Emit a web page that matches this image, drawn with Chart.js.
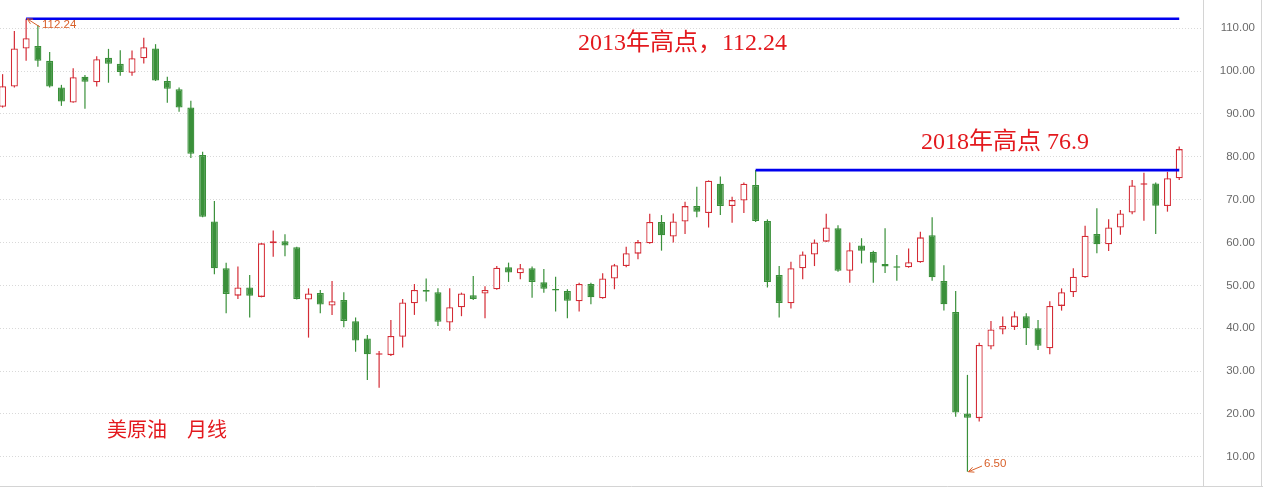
<!DOCTYPE html>
<html><head><meta charset="utf-8">
<script src="https://cdn.jsdelivr.net/npm/chart.js@4.4.0/dist/chart.umd.min.js"></script>
<style>html,body{margin:0;padding:0;background:#fff;overflow:hidden}canvas{display:block}</style>
</head><body>
<canvas id="c" width="1263" height="489"></canvas>
<script>
// Monthly candles (US crude oil), left to right
const opens  = [91.7,96.4,105.3,105.9,102.4,96.2,92.7,98.7,97.4,103.1,101.7,99.6,103.0,105.3,97.7,95.8,91.5,80.4,64.9,54.0,
                47.6,49.5,47.3,59.8,60.3,58.9,46.7,48.2,45.3,46.6,41.6,37.6,33.8,33.7,38.0,45.8,48.9,48.4,41.3,44.9,
                47.7,48.1,49.1,54.2,52.8,54.0,50.7,49.1,48.7,46.3,50.3,47.0,51.6,54.5,57.4,59.8,64.8,61.4,64.9,68.5,
                66.9,73.7,68.5,69.8,73.4,65.0,52.4,45.8,54.0,57.2,60.2,63.3,53.4,59.3,57.8,55.0,54.3,54.2,55.4,61.7,
                51.0,43.8,20.1,19.0,35.7,39.7,40.3,42.8,40.0,35.3,45.2,48.4,51.9,62.0,59.6,63.5,67.0,73.5,73.8,68.5,75.0];
const highs  = [99.3,109.4,112.24,110.8,104.5,96.8,100.7,99.1,103.5,105.2,104.9,104.8,107.8,106.3,98.7,96.2,93.1,81.2,69.7,55.3,
                54.4,52.4,59.9,62.8,61.9,59.0,49.3,48.9,51.0,48.4,42.5,38.4,34.7,41.9,46.8,50.3,51.6,49.3,49.3,48.3,
                52.2,49.8,54.5,55.3,55.0,54.4,53.8,52.0,49.1,50.6,50.6,52.8,55.0,59.0,60.6,66.7,66.4,66.8,69.5,73.0,
                74.5,75.4,70.7,74.0,76.9,65.4,54.5,55.5,57.9,60.7,66.7,64.0,60.0,61.0,58.1,63.3,57.1,58.6,62.5,65.9,
                54.7,48.7,29.1,36.6,41.7,42.7,43.9,43.5,41.9,46.3,49.3,54.0,63.9,68.0,65.4,67.6,74.6,76.3,74.0,76.5,82.4];
const lows   = [91.5,96.2,102.4,101.0,96.2,91.9,92.6,91.2,96.4,97.3,98.9,98.9,101.8,97.7,92.6,90.5,79.7,65.9,52.6,43.5,
                46.8,42.5,47.2,56.7,56.8,46.7,37.8,43.5,43.1,40.2,34.5,27.9,26.1,33.5,35.5,43.1,46.2,40.5,39.4,42.8,
                46.6,42.3,49.0,50.8,51.4,47.1,48.3,43.9,42.3,43.9,45.6,46.9,49.1,54.2,56.1,59.7,58.1,60.0,62.0,65.9,
                63.5,66.4,64.6,66.9,64.8,49.5,42.5,44.6,51.4,54.5,60.1,53.2,50.6,55.1,50.6,52.9,51.1,54.1,55.3,51.1,
                44.1,19.3,6.5,18.2,35.1,38.6,39.6,36.1,34.9,33.9,44.1,47.3,51.8,57.5,58.0,61.8,66.6,65.1,62.0,67.2,74.6];
const closes = [96.5,105.3,107.7,102.4,96.4,92.9,98.6,97.5,102.8,101.7,99.8,103.0,105.6,97.8,95.9,91.5,80.7,66.0,54.0,48.0,
                49.5,47.6,59.8,60.3,59.3,46.8,48.1,45.5,46.3,41.7,37.1,33.9,34.0,38.2,46.0,48.9,48.5,41.5,44.9,48.1,
                46.8,48.9,54.1,53.0,54.0,50.8,49.2,48.8,46.4,50.3,47.2,51.6,54.7,57.5,60.1,64.8,61.7,64.9,68.5,67.2,
                74.4,68.5,69.9,73.7,65.0,50.8,45.9,54.0,57.2,60.0,63.5,53.4,58.2,58.1,55.3,54.4,54.1,55.4,61.2,51.9,
                45.6,20.3,19.1,36.1,39.7,40.5,42.8,40.0,35.9,45.2,48.4,52.0,61.6,59.6,63.5,66.8,73.3,73.8,68.6,75.0,81.8];
const yTickValues = [10,20,30,40,50,60,70,80,90,100,110];
const high2013Index = 2,  high2013 = 112.24;
const high2018Index = 64, high2018 = 76.9;
const lowIndex = 82, lowValue = 6.50;
const lastIndex = 100;
const title2013 = '2013年高点，112.24';
const title2018 = '2018年高点 76.9';
const chartName = '美原油　月线';

const UP = '#d42c36', DOWN = '#3a903a';
const isUp = i => closes[i] >= opens[i];

const bodies = opens.map((o, i) => ({x: i, y: [o, closes[i]]}));
const wicks = lows.map((l, i) => ({x: i, y: [l, highs[i]]}));

const annot = {
  id: 'annot',
  afterDraw(chart) {
    const ctx = chart.ctx, xs = chart.scales.x, ys = chart.scales.y;
    ctx.save();
    // frame
    ctx.strokeStyle = '#d4d4d4'; ctx.lineWidth = 1;
    ctx.beginPath();
    ctx.moveTo(0, 486.5); ctx.lineTo(1263, 486.5);
    ctx.moveTo(1261.5, 0); ctx.lineTo(1261.5, 487);
    ctx.stroke();
    // big texts
    ctx.fillStyle = '#e3191e';
    ctx.textBaseline = 'middle'; ctx.textAlign = 'left';
    ctx.font = '24px "Liberation Serif", "Noto Sans CJK SC", serif';
    ctx.fillText(title2013, 578, 44);
    ctx.fillText(title2018, 921, 143);
    ctx.font = '20px "Noto Sans CJK SC", sans-serif';
    ctx.fillText(chartName, 107, 429);
    // small extreme labels with arrows
    const label = (idx, val, tx, ty) => {
      const px = xs.getPixelForValue(idx), py = ys.getPixelForValue(val);
      ctx.strokeStyle = '#d8602a'; ctx.fillStyle = '#d8602a'; ctx.lineWidth = 1;
      const sx = tx - 2, sy = ty + 2;
      ctx.beginPath(); ctx.moveTo(sx, sy); ctx.lineTo(px + 1, py); ctx.stroke();
      const a = Math.atan2(sy - py, sx - px);
      ctx.beginPath();
      ctx.moveTo(px + 1, py);
      ctx.lineTo(px + 1 + 6*Math.cos(a - 0.45), py + 6*Math.sin(a - 0.45));
      ctx.moveTo(px + 1, py);
      ctx.lineTo(px + 1 + 6*Math.cos(a + 0.45), py + 6*Math.sin(a + 0.45));
      ctx.stroke();
      ctx.font = '11.5px "Liberation Sans", sans-serif';
      ctx.textAlign = 'left'; ctx.textBaseline = 'middle';
      ctx.fillText(val.toFixed(2), tx, ty);
    };
    label(high2013Index, high2013, 42, 25);
    label(lowIndex, lowValue, 984, 464);
    ctx.restore();
  }
};

new Chart(document.getElementById('c'), {
  data: {
    datasets: [
      {type: 'line', order: 0, data: [{x: high2013Index, y: high2013}, {x: lastIndex, y: high2013}],
       borderColor: '#0000ee', borderWidth: 2.6, pointRadius: 0, tension: 0},
      {type: 'line', order: 0, data: [{x: high2018Index, y: high2018}, {x: lastIndex, y: high2018}],
       borderColor: '#0000ee', borderWidth: 2.6, pointRadius: 0, tension: 0},
      {type: 'bar', order: 1, data: bodies, grouped: false, maxBarThickness: 7, minBarLength: 1.5,
       backgroundColor: opens.map((o, i) => isUp(i) ? '#ffffff' : DOWN),
       borderColor: opens.map((o, i) => isUp(i) ? UP : DOWN),
       borderWidth: 1.3, borderSkipped: false},
      {type: 'bar', order: 2, data: wicks, grouped: false, maxBarThickness: 1.2,
       backgroundColor: opens.map((o, i) => isUp(i) ? UP : DOWN), borderWidth: 0}
    ]
  },
  options: {
    responsive: false, animation: false, devicePixelRatio: 1,
    layout: {padding: {left: 0, right: 8, top: 0, bottom: 3}, autoPadding: false},
    plugins: {legend: {display: false}, tooltip: {enabled: false}},
    scales: {
      x: {type: 'linear', display: false, offset: false, grid: {offset: false}, min: -0.22, max: 102.02},
      y: {
        type: 'linear', position: 'right', min: 3.16, max: 116.61,
        afterBuildTicks: s => { s.ticks = yTickValues.map(v => ({value: v})); },
        afterFit: s => { s.width = 52; s.paddingTop = 0; s.paddingBottom = 0; },
        ticks: {callback: v => Number(v).toFixed(2), color: '#6a6a6a', crossAlign: 'far', padding: 12,
                font: {family: '"Liberation Sans", sans-serif', size: 11.5}},
        grid: {color: '#d9d9d9', drawTicks: false, lineWidth: 1},
        border: {display: true, color: '#d4d4d4', dash: [1, 2]}
      }
    }
  },
  plugins: [annot]
});
</script>
</body></html>
